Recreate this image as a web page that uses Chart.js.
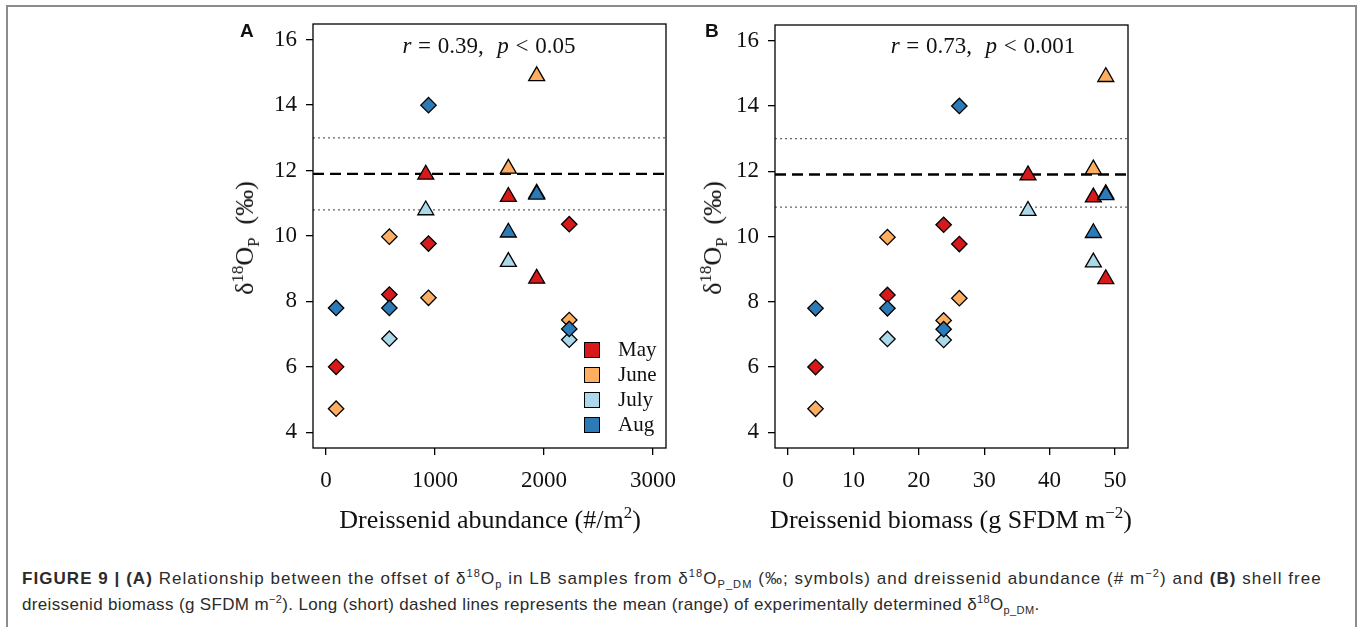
<!DOCTYPE html>
<html>
<head>
<meta charset="utf-8">
<script src="https://cdn.jsdelivr.net/npm/chart.js@4.4.0/dist/chart.umd.min.js"></script>
<style>
  body { margin: 0; width: 1357px; height: 627px; background: #fff; position: relative; overflow: hidden; font-family: "Liberation Serif", serif; color: #111; }
  .frame { position: absolute; left: 6px; top: 5px; width: 1347px; height: 700px; border: 2px solid #8c8c8c; }
  canvas { position: absolute; }
  .txt { position: absolute; white-space: nowrap; line-height: 1; }
  .ytitle { transform: translate(-50%, -50%) rotate(-90deg); font-size: 26px; }
  .xtitle { transform: translateX(-50%); font-size: 26px; }
  .stat { transform: translateX(-50%); font-size: 23px; word-spacing: 1px; }
  .panel { font-family: "Liberation Sans", Arial, sans-serif; font-weight: bold; font-size: 19px; }
  .leg-box { position: absolute; width: 14px; height: 14px; border: 1.3px solid #000; }
  .leg-lab { position: absolute; font-size: 21px; line-height: 1; }
  sup, sub { font-size: 65%; line-height: 0; }
  .caption { position: absolute; left: 22px; top: 566px; font-family: "Liberation Sans", Arial, sans-serif; font-size: 17px; line-height: 26px; color: #2b2b2b; white-space: nowrap; }
  .caption div { white-space: nowrap; }
</style>
</head>
<body>
<div class="frame"></div>

<canvas id="chartA" width="430" height="500" style="left:250px; top:10px;"></canvas>
<canvas id="chartB" width="430" height="500" style="left:712px; top:10px;"></canvas>

<div class="txt panel" style="left:240px; top:21px;">A</div>
<div class="txt panel" style="left:705px; top:21px;">B</div>

<div class="txt ytitle" style="left:245px; top:238px;">δ<sup>18</sup>O<sub>P</sub>&nbsp; (‰)</div>
<div class="txt ytitle" style="left:713px; top:238px;">δ<sup>18</sup>O<sub>P</sub>&nbsp; (‰)</div>

<div class="txt xtitle" style="left:490px; top:507px;">Dreissenid abundance (#/m<sup>2</sup>)</div>
<div class="txt xtitle" style="left:951px; top:507px;">Dreissenid biomass (g SFDM m<sup>−2</sup>)</div>

<div class="txt stat" style="left:489px; top:34px;"><i>r</i> = 0.39,&nbsp; <i>p</i> &lt; 0.05</div>
<div class="txt stat" style="left:983px; top:34px;"><i>r</i> = 0.73,&nbsp; <i>p</i> &lt; 0.001</div>

<div id="legend"></div>

<div class="caption">
  <div style="letter-spacing:1.05px;"><b>FIGURE 9 | (A)</b> Relationship between the offset of δ<sup>18</sup>O<sub>p</sub> in LB samples from δ<sup>18</sup>O<sub>P_DM</sub> (‰; symbols) and dreissenid abundance (# m<sup>−2</sup>) and <b>(B)</b> shell free</div>
  <div style="letter-spacing:0.35px;">dreissenid biomass (g SFDM m<sup>−2</sup>). Long (short) dashed lines represents the mean (range) of experimentally determined δ<sup>18</sup>O<sub>p_DM</sub>.</div>
</div>

<script>
const months = ['May', 'June', 'July', 'Aug'];
const monthColors = ['#d7191c', '#fdae61', '#abd9e9', '#2c7bb6'];

// one entry per sampling site
const siteAbundance = [92, 581, 940, 2232, 915, 1673, 1933];
const siteBiomass = [4.2, 15.2, 26.2, 23.8, 36.7, 46.7, 48.6];
const siteShape = ['rectRot', 'rectRot', 'rectRot', 'rectRot', 'triangle', 'triangle', 'triangle'];

// d18Op offsets per month (null = no sample)
const mayValues = [6.0, 8.21, 9.77, 10.36, 11.88, 11.2, 8.7];
const juneValues = [4.72, 9.98, 8.11, 7.43, null, 12.06, 14.89];
const julyValues = [null, 6.86, null, 6.83, 10.79, 9.21, 11.3];
const augValues = [7.8, 7.8, 14.0, 7.16, null, 10.11, 11.27];
const monthValues = [mayValues, juneValues, julyValues, augValues];

// experimental d18Op_DM mean and range
const dmMean = 11.9;
const dmRangeA = [10.8, 13.0];
const dmRangeB = [10.9, 13.0];

const xRangeA = [-120, 3120];
const xRangeB = [-2, 52];
const yRange = [3.52, 16.48];
const xTicksA = [0, 1000, 2000, 3000];
const xTicksB = [0, 10, 20, 30, 40, 50];
const yTicks = [4, 6, 8, 10, 12, 14, 16];

function monthDatasets(xs) {
    return months.map((month, i) => {
        const pts = [];
        const styles = [];
        monthValues[i].forEach((v, k) => {
            if (v !== null) {
                pts.push({ x: xs[k], y: v });
                styles.push(siteShape[k]);
            }
        });
        return {
            label: month,
            data: pts,
            pointStyle: styles,
            pointRadius: styles.map(s => s === 'triangle' ? 9.2 : 7.7),
            backgroundColor: monthColors[i],
            borderColor: '#000',
            borderWidth: 1.3,
            order: 4 - i // Aug drawn on top
        };
    });
}

function hLine(y, xr, dash, color, width) {
    return {
        label: 'line',
        data: [{ x: xr[0], y: y }, { x: xr[1], y: y }],
        showLine: true,
        pointRadius: 0,
        borderColor: color,
        borderWidth: width,
        borderDash: dash,
        order: 10
    };
}

const boxPlugin = {
    id: 'box',
    afterDraw(chart) {
        const a = chart.chartArea;
        const ctx = chart.ctx;
        ctx.save();
        ctx.strokeStyle = '#000';
        ctx.lineWidth = 1.3;
        ctx.strokeRect(a.left, a.top, a.right - a.left, a.bottom - a.top);
        ctx.restore();
    }
};

// keep the plot box where it is, labels may overflow into the padding
function noPadding(s) {
    s.paddingTop = 0;
    s.paddingBottom = 0;
    s.paddingLeft = 0;
    s.paddingRight = 0;
}

function createPanel(canvasId, xs, xr, xTicks, range, topPad) {
    const datasets = [
        hLine(dmMean, xr, [11, 6], '#000', 2.4),
        hLine(range[0], xr, [2, 3], '#666', 1.3),
        hLine(range[1], xr, [2, 3], '#666', 1.3)
    ].concat(monthDatasets(xs));

    new Chart(document.getElementById(canvasId), {
        type: 'scatter',
        data: { datasets: datasets },
        options: {
            responsive: false,
            animation: false,
            devicePixelRatio: 1,
            layout: { padding: { top: topPad, right: 14, left: 0, bottom: 0 } },
            plugins: { legend: { display: false }, tooltip: { enabled: false } },
            scales: {
                x: {
                    type: 'linear',
                    min: xr[0],
                    max: xr[1],
                    afterBuildTicks: s => { s.ticks = xTicks.map(v => ({ value: v })); },
                    afterFit: s => { s.height = 62; noPadding(s); },
                    border: { display: false },
                    grid: { drawOnChartArea: false, drawTicks: true, tickLength: 7, color: '#000', lineWidth: 1.3 },
                    ticks: { padding: 12, color: '#111', font: { family: 'Liberation Serif', size: 23 }, maxRotation: 0, callback: v => String(v) }
                },
                y: {
                    type: 'linear',
                    min: yRange[0],
                    max: yRange[1],
                    afterBuildTicks: s => { s.ticks = yTicks.map(v => ({ value: v })); },
                    afterFit: s => { s.width = 63; noPadding(s); },
                    border: { display: false },
                    grid: { drawOnChartArea: false, drawTicks: true, tickLength: 7, color: '#000', lineWidth: 1.3 },
                    ticks: { padding: 9, color: '#111', font: { family: 'Liberation Serif', size: 23 }, callback: v => String(v) }
                }
            }
        },
        plugins: [boxPlugin]
    });
}

createPanel('chartA', siteAbundance, xRangeA, xTicksA, dmRangeA, 14);
createPanel('chartB', siteBiomass, xRangeB, xTicksB, dmRangeB, 15);

// legend inside panel A
const legend = document.getElementById('legend');
months.forEach((month, i) => {
    const cy = 350 + i * 25;
    const box = document.createElement('div');
    box.className = 'leg-box';
    box.style.left = '584px';
    box.style.top = (cy - 8) + 'px';
    box.style.background = monthColors[i];
    legend.appendChild(box);
    const lab = document.createElement('div');
    lab.className = 'leg-lab';
    lab.style.left = '618px';
    lab.style.top = (cy - 11) + 'px';
    lab.textContent = month;
    legend.appendChild(lab);
});
</script>
</body>
</html>
